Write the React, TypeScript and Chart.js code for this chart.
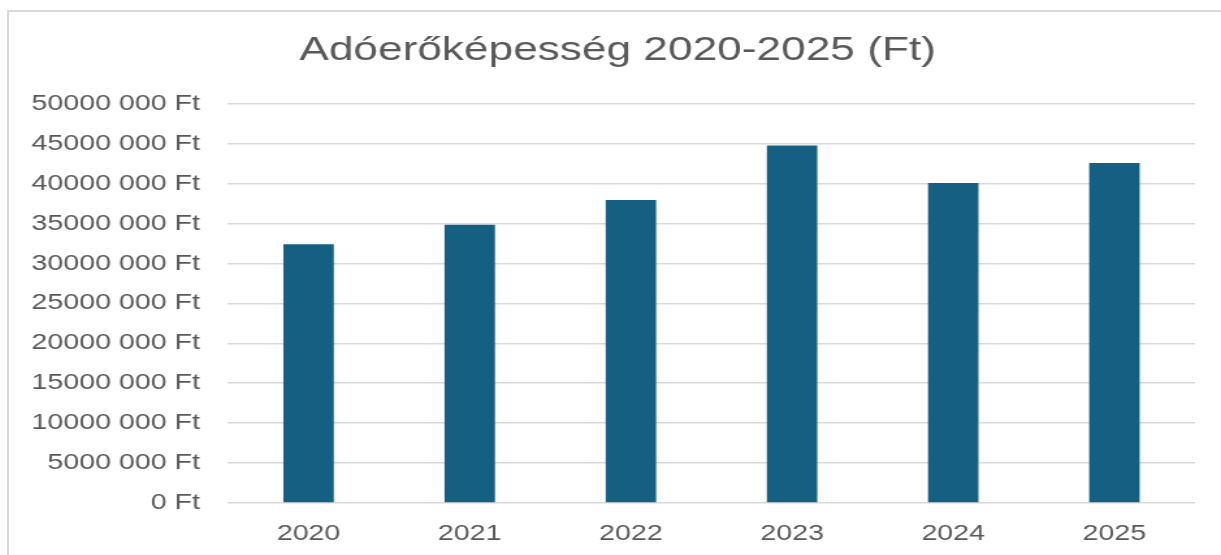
import React, { useEffect, useRef } from "react";
import { Chart, registerables } from "chart.js";

Chart.register(...registerables);

const TITLE = "Adóerőképesség 2020-2025 (Ft)";
const YEARS = ["2020", "2021", "2022", "2023", "2024", "2025"];
const VALUES = [32400000, 34850000, 37950000, 44770000, 40080000, 42600000];
const Y_MIN = 0;
const Y_MAX = 50000000;
const Y_STEP = 5000000;

const BAR_COLOR = "#156082";
const TEXT_COLOR = "#595959";
const GRID_COLOR = "#d9d9d9";
const FONT = "'Liberation Sans', Arial, sans-serif";

// canvas is drawn narrower and stretched horizontally to mimic the wide text of the original
const CANVAS_W = 932;
const CANVAS_H = 543;
const DISPLAY_W = 1212;
const STRETCH = DISPLAY_W / CANVAS_W;

function formatFt(v: number): string {
  if (v === 0) return "0 Ft";
  const thousands = Math.floor(v / 1000);
  const rest = String(v % 1000).padStart(3, "0");
  return `${thousands} ${rest} Ft`;
}

export default function App() {
  const ref = useRef<HTMLCanvasElement | null>(null);

  useEffect(() => {
    if (!ref.current) return;
    const chart = new Chart(ref.current, {
      type: "bar",
      data: {
        labels: YEARS,
        datasets: [
          {
            data: VALUES,
            backgroundColor: BAR_COLOR,
            borderWidth: 0,
            barPercentage: 0.313,
            categoryPercentage: 1,
            yAxisID: "y",
          },
        ],
      },
      options: {
        animation: false,
        responsive: false,
        maintainAspectRatio: false,
        layout: { padding: { left: 0, right: -4, top: 0, bottom: 0 } },
        plugins: {
          legend: { display: false },
          tooltip: { enabled: false },
          title: {
            display: true,
            text: TITLE,
            color: TEXT_COLOR,
            font: { family: FONT, size: 34, weight: "normal" },
            padding: { top: 18, bottom: 33 },
          },
        },
        scales: {
          x: {
            grid: { display: false, drawTicks: false },
            border: { display: false },
            ticks: {
              color: TEXT_COLOR,
              font: { family: FONT, size: 22 },
              padding: 18,
              maxRotation: 0,
            },
            afterFit: (scale: any) => {
              scale.height = 52;
            },
          },
          y: {
            min: Y_MIN,
            max: Y_MAX,
            border: { display: false },
            grid: { color: GRID_COLOR, lineWidth: 1.5, drawTicks: false },
            ticks: {
              stepSize: Y_STEP,
              color: TEXT_COLOR,
              font: { family: FONT, size: 22 },
              padding: 21.5,
              callback: (v: any) => formatFt(Number(v)),
            },
            afterFit: (scale: any) => {
              scale.width = 168.4;
            },
          },
          yRight: {
            position: "right",
            display: true,
            border: { display: false },
            grid: { display: false, drawTicks: false },
            ticks: { display: false },
            afterFit: (scale: any) => {
              scale.width = 24;
            },
          },
        },
      },
    });
    return () => chart.destroy();
  }, []);

  return (
    <div
      style={{
        position: "absolute",
        left: 7,
        top: 10,
        width: 1214,
        height: 545,
        borderLeft: "2px solid #d9d9d9",
        borderTop: "2px solid #d9d9d9",
        boxSizing: "border-box",
        background: "#fff",
        overflow: "hidden",
      }}
    >
      <div
        style={{
          width: CANVAS_W,
          height: CANVAS_H,
          transform: `scaleX(${STRETCH})`,
          transformOrigin: "0 0",
        }}
      >
        <canvas ref={ref} width={CANVAS_W} height={CANVAS_H} style={{ display: "block" }} />
      </div>
    </div>
  );
}
